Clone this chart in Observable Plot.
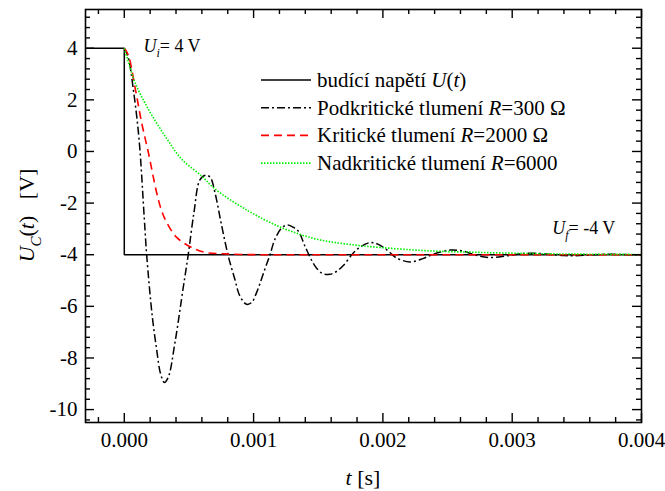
<!DOCTYPE html>
<html><head><meta charset="utf-8">
<script src="https://cdn.jsdelivr.net/npm/d3@7"></script>
<script src="https://cdn.jsdelivr.net/npm/@observablehq/plot@0.6"></script>
<style>
body{margin:0;background:#fff}
svg{display:block}
#chart svg [aria-label$="tick label"], #chart svg [aria-label$="tick label"] text {
  font-family: 'Liberation Serif', serif !important; font-size: 21px !important;
}
</style>
</head><body><div id="chart"></div>
<script>
// ---- data (time in ms, voltage in V) ----
const stepT = [-0.3, 0, 0, 4.0];
const stepU = [4, 4, -4, -4];

const underT = [0, 0.03, 0.07, 0.114, 0.155, 0.173, 0.216, 0.25, 0.28, 0.31, 0.34, 0.392, 0.456, 0.495, 0.539, 0.585, 0.63, 0.665, 0.701, 0.75, 0.804, 0.855, 0.894, 0.946, 0.985, 1.023, 1.087, 1.126, 1.165, 1.22, 1.263, 1.30, 1.345, 1.40, 1.474, 1.53, 1.59, 1.64, 1.692, 1.77, 1.82, 1.90, 1.96, 2.04, 2.10, 2.21, 2.31, 2.39, 2.52, 2.62, 2.72, 2.83, 2.95, 3.05, 3.15, 3.28, 3.40, 3.48, 3.60, 3.72, 3.85, 4.0];
const underU = [4.0, 3.65, 2.4, 0.48, -2.62, -4.0, -6.37, -7.66, -8.6, -8.95, -8.75, -7.40, -5.27, -3.98, -2.36, -1.10, -0.92, -1.0, -1.59, -2.8, -4.05, -4.95, -5.6, -5.92, -5.85, -5.47, -4.56, -4.02, -3.4, -2.95, -2.85, -2.92, -3.08, -3.7, -4.43, -4.72, -4.76, -4.65, -4.43, -3.94, -3.72, -3.53, -3.59, -3.85, -4.11, -4.28, -4.15, -3.98, -3.82, -3.86, -4.02, -4.11, -4.05, -3.97, -3.94, -3.98, -4.03, -4.04, -4.01, -3.98, -3.99, -4.01];

const critT = [0, 0.03, 0.088, 0.134, 0.186, 0.25, 0.289, 0.328, 0.405, 0.521, 0.624, 0.753, 0.9, 1.1, 1.5, 2.0, 3.0, 4.0];
const critU = [4.0, 3.75, 2.35, 1.12, -0.04, -1.59, -2.3, -2.75, -3.33, -3.72, -3.91, -3.96, -3.99, -4.0, -4.0, -4.0, -4.0, -4.0];

const overT = [0, 0.03, 0.083, 0.186, 0.315, 0.444, 0.598, 0.701, 0.958, 1.216, 1.474, 1.706, 1.98, 2.36, 2.75, 3.2, 3.6, 4.0];
const overU = [4.0, 3.5, 2.67, 1.64, 0.6, -0.3, -0.95, -1.45, -2.3, -2.95, -3.38, -3.58, -3.72, -3.85, -3.91, -3.96, -3.98, -3.99];

const xTicks = [0, 0.001, 0.002, 0.003, 0.004];
const xMinorTicks = [-0.0002, 0.0002, 0.0004, 0.0006, 0.0008, 0.0012, 0.0014, 0.0016, 0.0018, 0.0022, 0.0024, 0.0026, 0.0028, 0.0032, 0.0034, 0.0036, 0.0038];
const yTicks = [-10, -8, -6, -4, -2, 0, 2, 4];
const yMinorTicks = d3.range(-26, 14).map(i => +(i * 0.4).toFixed(1)).filter(v => Math.abs(v % 2) > 1e-9 && v > -10.5 && v < 5.5);

const toRows = (T, U) => T.map((t, i) => ({t: t / 1000, u: U[i]}));
const stepRows = toRows(stepT, stepU);
const underRows = toRows(underT, underU);
const critRows = toRows(critT, critU);
const overRows = toRows(overT, overU);

// ---- layout ----
const W = 665, H = 491, mL = 85, mR = 24, mT = 9, mB = 69;
const fw = W - mL - mR, fh = H - mT - mB;
const FONT = "'Liberation Serif', 'Times New Roman', serif";
const under = {stroke: "black", dash: "8,3,2,3", width: 1.5};
const crit = {stroke: "#ff0000", dash: "8,5", width: 1.6};
const over = {stroke: "#00ee00", dash: "1.5,1.5", width: 1.6};

const plot = Plot.plot({
  width: W, height: H,
  marginLeft: mL, marginRight: mR, marginTop: mT, marginBottom: mB,
  style: {fontFamily: FONT, fontSize: "21px", color: "black", background: "white"},
  x: {domain: [-0.0003, 0.004]},
  y: {domain: [-10.5, 5.5]},
  marks: [
    Plot.line(stepRows, {x: "t", y: "u", stroke: "black", strokeWidth: 1.5, strokeLinecap: "butt", strokeLinejoin: "miter"}),
    Plot.line(underRows, {x: "t", y: "u", stroke: under.stroke, strokeWidth: under.width, strokeDasharray: under.dash, strokeLinecap: "butt", curve: "catmull-rom"}),
    Plot.line(critRows, {x: "t", y: "u", stroke: crit.stroke, strokeWidth: crit.width, strokeDasharray: crit.dash, strokeLinecap: "butt", curve: "catmull-rom"}),
    Plot.line(overRows, {x: "t", y: "u", stroke: over.stroke, strokeWidth: over.width, strokeDasharray: over.dash, strokeLinecap: "butt", curve: "catmull-rom"}),
    // inward ticks
    Plot.tickX(xTicks, {x: d => d, insetTop: fh - 9, strokeWidth: 1.4}),
    Plot.tickX(xTicks, {x: d => d, insetBottom: fh - 9, strokeWidth: 1.4}),
    Plot.tickX(xMinorTicks, {x: d => d, insetTop: fh - 5, strokeWidth: 1.4}),
    Plot.tickX(xMinorTicks, {x: d => d, insetBottom: fh - 5, strokeWidth: 1.4}),
    Plot.tickY(yTicks, {y: d => d, insetRight: fw - 9, strokeWidth: 1.4}),
    Plot.tickY(yTicks, {y: d => d, insetLeft: fw - 9, strokeWidth: 1.4}),
    Plot.tickY(yMinorTicks, {y: d => d, insetRight: fw - 5, strokeWidth: 1.4}),
    Plot.tickY(yMinorTicks, {y: d => d, insetLeft: fw - 5, strokeWidth: 1.4}),
    Plot.axisX(xTicks, {anchor: "bottom", tickSize: 0, tickPadding: 10, tickFormat: d => d.toFixed(3), label: null, fontSize: 21}),
    Plot.axisY(yTicks, {anchor: "left", tickSize: 0, tickPadding: 8, tickFormat: d => String(d), label: null, fontSize: 21}),
    Plot.frame({stroke: "black", strokeWidth: 1.6})
  ]
});
document.getElementById("chart").appendChild(plot);

// ---- text decorations ----
const svg = d3.select(plot);
svg.selectAll("text").attr("font-family", FONT);
const xs = plot.scale("x"), ys = plot.scale("y");

function rich(g, parts, size, anchor = "start") {
  const t = g.append("text").attr("font-family", FONT).attr("font-size", size).attr("fill", "black")
    .attr("text-anchor", anchor).attr("xml:space", "preserve");
  let shift = 0;
  for (const p of parts) {
    const s = t.append("tspan").text(p.s);
    if (p.i) s.attr("font-style", "italic");
    const target = p.sub ? Math.round(size * 0.3) : 0;
    if (target !== shift) { s.attr("dy", target - shift); shift = target; }
    if (p.sub) s.attr("font-size", Math.round(size * 0.68));
  }
  return t;
}

// annotations
const annos = [
  {t: 0.000152, u: 3.85, sub: "i", rest: "= 4 V"},
  {t: 0.003313, u: -3.2, sub: "f", rest: "= -4 V"}
];
for (const a of annos) {
  rich(svg, [{s: "U", i: true}, {s: a.sub, i: true, sub: true}, {s: a.rest}], 18)
    .attr("x", xs.apply(a.t)).attr("y", ys.apply(a.u));
}

// legend
const legendItems = [
  {style: {stroke: "black", dash: null, width: 1.5}, parts: [{s: "budící napětí "}, {s: "U", i: true}, {s: "("}, {s: "t", i: true}, {s: ")"}]},
  {style: under, parts: [{s: "Podkritické tlumení "}, {s: "R", i: true}, {s: "=300 Ω"}]},
  {style: crit, parts: [{s: "Kritické tlumení "}, {s: "R", i: true}, {s: "=2000 Ω"}]},
  {style: over, parts: [{s: "Nadkritické tlumení "}, {s: "R", i: true}, {s: "=6000"}]}
];
const lg = svg.append("g");
legendItems.forEach((it, k) => {
  const yb = 87 + k * 27.7;
  lg.append("line").attr("x1", 261).attr("x2", 311).attr("y1", yb - 7).attr("y2", yb - 7)
    .attr("stroke", it.style.stroke).attr("stroke-width", it.style.width)
    .attr("stroke-dasharray", it.style.dash);
  rich(lg, it.parts, 21).attr("x", 317).attr("y", yb);
});

// axis titles
rich(svg, [{s: "t", i: true}, {s: " [s]"}], 22, "middle")
  .attr("x", mL + fw / 2).attr("y", 485);
rich(svg, [{s: "U", i: true}, {s: "C", i: true, sub: true}, {s: "("}, {s: "t", i: true}, {s: ")   [V]"}], 22, "middle")
  .attr("transform", `translate(34,${mT + fh / 2}) rotate(-90)`);
</script>
</body></html>
